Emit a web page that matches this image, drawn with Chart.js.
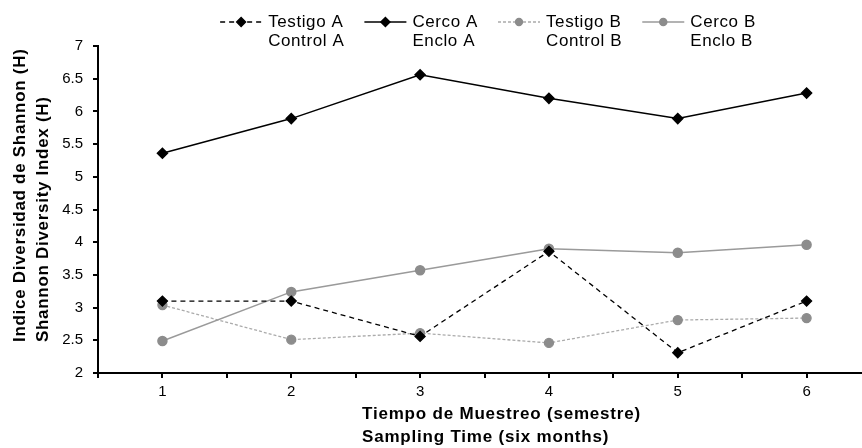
<!DOCTYPE html>
<html>
<head>
<meta charset="utf-8">
<script src="https://cdn.jsdelivr.net/npm/chart.js@4.4.1/dist/chart.umd.min.js"></script>
<style>
    html, body { margin: 0; padding: 0; background: #fff; }
    #wrap { width: 862px; height: 448px; }
</style>
</head>
<body>
<div id="wrap"><canvas id="diversity-chart" width="862" height="448"></canvas></div>
<script>
// Sampling times (semesters) and Shannon index per series
const samplingTimes = [1, 2, 3, 4, 5, 6];
const testigoA = [3.10, 3.10, 2.56, 3.86, 2.31, 3.10];
const cercoA = [5.36, 5.89, 6.56, 6.20, 5.89, 6.28];
const testigoB = [3.04, 2.51, 2.61, 2.46, 2.81, 2.84];
const cercoB = [2.49, 3.24, 3.57, 3.90, 3.84, 3.96];

const yMin = 2;
const yMax = 7;
const yStep = 0.5;

const legendText = [
    ['Testigo A', 'Control A'],
    ['Cerco A', 'Enclo A'],
    ['Testigo B', 'Control B'],
    ['Cerco B', 'Enclo B']
];
const xTitleLines = ['Tiempo de Muestreo (semestre)', 'Sampling Time (six months)'];
const yTitleLines = ['Indice Diversidad de Shannon (H)', 'Shannon Diversity Index (H)'];

const FONT = '"Liberation Sans", Arial, Helvetica, sans-serif';

function toPoints(values) {
    return samplingTimes.map((t, i) => ({ x: t, y: values[i] }));
}

// tick marks sit every half step, labels only on whole samples
const xTickValues = samplingTimes.flatMap(t => [t - 0.5, t]);

document.addEventListener('DOMContentLoaded', function () {
    const ctx = document.getElementById('diversity-chart');

    const axisTitles = {
        id: 'axisTitles',
        afterDraw(chart) {
            const c = chart.ctx;
            c.save();
            c.fillStyle = '#000';
            c.font = 'bold 17px ' + FONT;
            c.letterSpacing = '0.8px';
            c.textAlign = 'left';
            c.textBaseline = 'alphabetic';
            xTitleLines.forEach((line, i) => {
                c.fillText(line, 362, 419 + i * 23);
            });
            c.letterSpacing = '0.7px';
            yTitleLines.forEach((line, i) => {
                c.save();
                c.translate(25 + i * 22.5, 342);
                c.rotate(-Math.PI / 2);
                c.fillText(line, 0, 0);
                c.restore();
            });
            c.restore();
        }
    };

    // legend with two text lines per entry (Spanish / English)
    const seriesLegend = {
        id: 'seriesLegend',
        afterDraw(chart) {
            const c = chart.ctx;
            const sampleLen = 42;
            const textGap = 6;
            const itemGap = 20;
            const centerX = 488;
            const row1 = 22;
            const row2 = 41;

            c.save();
            c.font = '17px ' + FONT;
            c.letterSpacing = '0.6px';
            const widths = legendText.map(lines => Math.max(...lines.map(l => c.measureText(l).width)));
            const total = widths.reduce((a, w) => a + sampleLen + textGap + w, 0) + itemGap * (widths.length - 1);
            let x = centerX - total / 2;

            chart.data.datasets.forEach((ds, i) => {
                c.save();
                c.strokeStyle = ds.borderColor;
                c.lineWidth = ds.borderWidth;
                c.setLineDash(ds.borderDash || []);
                c.beginPath();
                c.moveTo(x, row1);
                c.lineTo(x + sampleLen, row1);
                c.stroke();
                c.setLineDash([]);
                c.fillStyle = ds.pointBackgroundColor;
                c.strokeStyle = ds.pointBorderColor;
                Chart.helpers.drawPoint(c, {
                    pointStyle: ds.pointStyle,
                    radius: ds.pointStyle === 'rectRot' ? 4.5 : 3.5,
                    rotation: 0,
                    borderWidth: 1
                }, x + sampleLen / 2, row1);
                c.restore();

                c.fillStyle = '#000';
                c.textAlign = 'left';
                c.textBaseline = 'middle';
                const tx = x + sampleLen + textGap;
                c.fillText(legendText[i][0], tx, row1);
                c.fillText(legendText[i][1], tx, row2);
                x = tx + widths[i] + itemGap;
            });
            c.restore();
        }
    };

    new Chart(ctx, {
        type: 'line',
        data: {
            datasets: [
                {
                    label: 'Testigo A',
                    data: toPoints(testigoA),
                    borderColor: '#000',
                    borderWidth: 1.3,
                    borderDash: [5, 4],
                    pointStyle: 'rectRot',
                    pointRadius: 5,
                    pointBackgroundColor: '#000',
                    pointBorderColor: '#000',
                    order: 2
                },
                {
                    label: 'Cerco A',
                    data: toPoints(cercoA),
                    borderColor: '#000',
                    borderWidth: 1.5,
                    pointStyle: 'rectRot',
                    pointRadius: 5,
                    pointBackgroundColor: '#000',
                    pointBorderColor: '#000',
                    order: 1
                },
                {
                    label: 'Testigo B',
                    data: toPoints(testigoB),
                    borderColor: '#ababab',
                    borderWidth: 1.3,
                    borderDash: [3, 2],
                    pointStyle: 'circle',
                    pointRadius: 4.5,
                    pointBackgroundColor: '#8c8c8c',
                    pointBorderColor: '#8c8c8c',
                    order: 4
                },
                {
                    label: 'Cerco B',
                    data: toPoints(cercoB),
                    borderColor: '#9a9a9a',
                    borderWidth: 1.5,
                    pointStyle: 'circle',
                    pointRadius: 4.5,
                    pointBackgroundColor: '#8c8c8c',
                    pointBorderColor: '#8c8c8c',
                    order: 3
                }
            ]
        },
        options: {
            responsive: false,
            animation: false,
            devicePixelRatio: 1,
            tension: 0,
            layout: {
                autoPadding: false,
                padding: { top: 46, left: 0, right: 0, bottom: 0 }
            },
            plugins: {
                legend: { display: false },
                tooltip: { enabled: false },
                title: { display: false }
            },
            scales: {
                x: {
                    type: 'linear',
                    bounds: 'data',
                    min: 0.5,
                    max: 6.43,
                    afterBuildTicks(axis) {
                        axis.ticks = xTickValues.map(v => ({ value: v }));
                    },
                    afterFit(scale) {
                        scale.height = 75;
                    },
                    ticks: {
                        autoSkip: false,
                        maxRotation: 0,
                        padding: 5,
                        color: '#000',
                        font: { family: FONT, size: 15 },
                        callback: function (value) {
                            return Number.isInteger(value) ? String(value) : '';
                        }
                    },
                    grid: {
                        drawOnChartArea: false,
                        drawTicks: true,
                        tickLength: 5,
                        color: '#000',
                        lineWidth: 2
                    },
                    border: { display: true, color: '#000', width: 2 }
                },
                y: {
                    min: yMin,
                    max: yMax,
                    afterFit(scale) {
                        scale.width = 98;
                    },
                    ticks: {
                        stepSize: yStep,
                        padding: 10,
                        color: '#000',
                        font: { family: FONT, size: 15 },
                        callback: function (value) {
                            return String(value);
                        }
                    },
                    grid: {
                        drawOnChartArea: false,
                        drawTicks: true,
                        tickLength: 5,
                        color: '#000',
                        lineWidth: 2
                    },
                    border: { display: true, color: '#000', width: 2 }
                }
            }
        },
        plugins: [axisTitles, seriesLegend]
    });
});
</script>
</body>
</html>
